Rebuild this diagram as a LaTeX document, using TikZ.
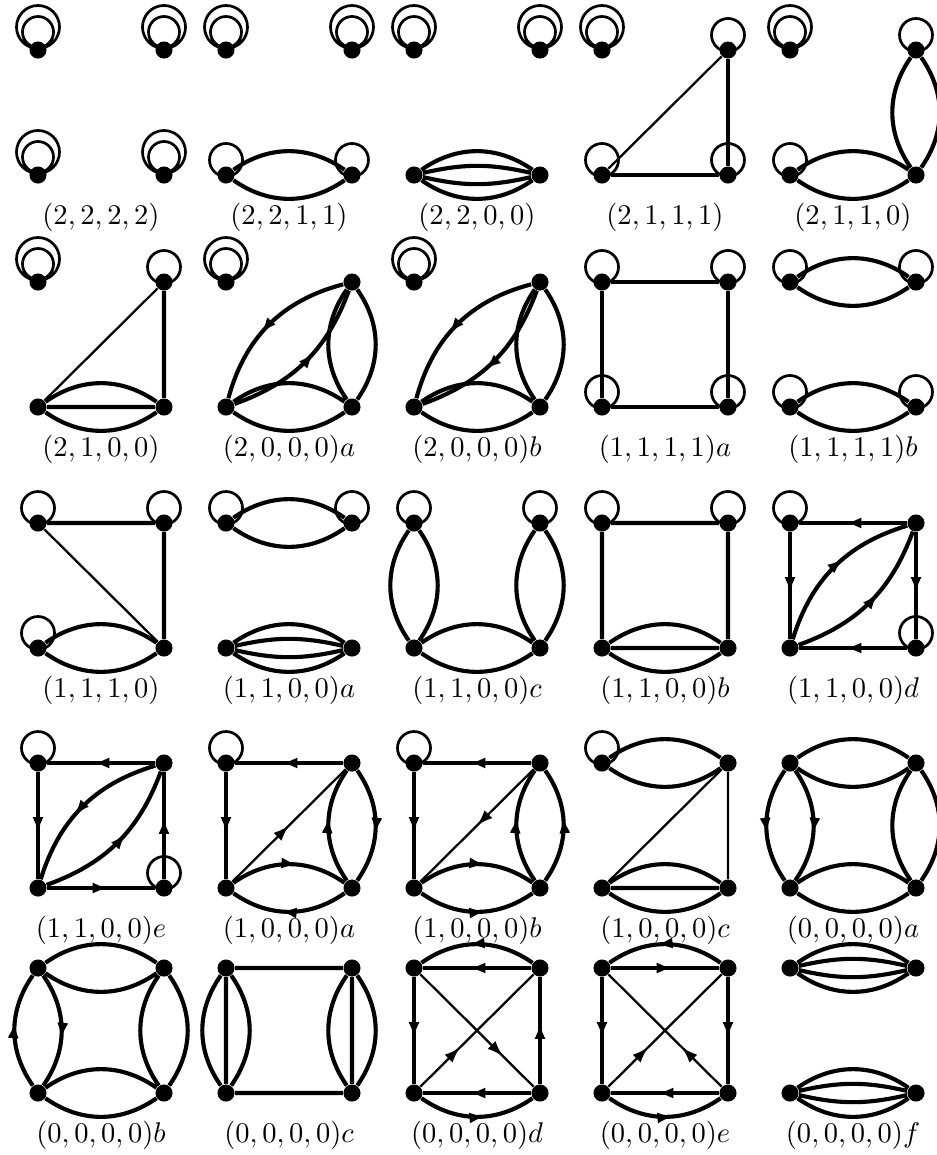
\documentclass[tikz,border=0pt]{standalone}
\usepackage{tikz}
\usetikzlibrary{arrows.meta,decorations.markings}
\tikzset{
  vtx/.style  = {circle, fill=black, inner sep=0pt, minimum size=6pt},
  ed/.style   = {line width=1.45pt},
  diag/.style = {line width=0.8pt},
  lp/.style   = {line width=0.95pt},
  lbl/.style  = {font=\fontsize{10.4}{12}\selectfont},
  fw/.style   = {postaction={decorate, decoration={markings,
                 mark=at position #1 with {\arrow{Latex[length=5.6pt,width=3.9pt]}}}}},
  fw/.default = 0.57,
}

\begin{document}
\begin{tikzpicture}[x=0.351pt, y=0.351pt]
\useasboundingbox (0,0) rectangle (936,-1155);

% four corners and the label of every graph
\foreach \nm/\x/\y/\lab in {
  g2222/38/50/{(2,2,2,2)}, g2211/226/50/{(2,2,1,1)}, g2200/414/50/{(2,2,0,0)},
  g2111/602/50/{(2,1,1,1)}, g2110/790/50/{(2,1,1,0)},
  g2100/38/282/{(2,1,0,0)}, g2000a/226/282/{(2,0,0,0)a}, g2000b/414/282/{(2,0,0,0)b},
  g1111a/602/282/{(1,1,1,1)a}, g1111b/790/282/{(1,1,1,1)b},
  g1110/38/523/{(1,1,1,0)}, g1100a/226/523/{(1,1,0,0)a}, g1100c/414/523/{(1,1,0,0)c},
  g1100b/602/523/{(1,1,0,0)b}, g1100d/790/523/{(1,1,0,0)d},
  g1100e/38/763/{(1,1,0,0)e}, g1000a/226/763/{(1,0,0,0)a}, g1000b/414/763/{(1,0,0,0)b},
  g1000c/602/763/{(1,0,0,0)c}, g0000a/790/763/{(0,0,0,0)a},
  g0000b/38/968/{(0,0,0,0)b}, g0000c/226/968/{(0,0,0,0)c}, g0000d/414/968/{(0,0,0,0)d},
  g0000e/602/968/{(0,0,0,0)e}, g0000f/790/968/{(0,0,0,0)f}}{
  \node[vtx] (\nm tl) at (\x,-\y) {};
  \node[vtx] (\nm tr) at (\x+126,-\y) {};
  \node[vtx] (\nm bl) at (\x,-\y-125) {};
  \node[vtx] (\nm br) at (\x+126,-\y-125) {};
  \node[lbl] (\nm lbl) at (\x+63,-\y-167) {$\lab$};
}

% double and single loops
\foreach \v in {g2222tl,g2222tr,g2222bl,g2222br,g2211tl,g2211tr,g2200tl,g2200tr,
  g2111tl,g2110tl,g2100tl,g2000atl,g2000btl}
  \draw[lp] (\v) ++(0,23) circle[radius=21.5] (\v) ++(0,18) circle[radius=15.5];
\foreach \v in {g2211bl,g2211br,g2111tr,g2111bl,g2111br,g2110tr,g2110bl,g2100tr,
  g1111atl,g1111atr,g1111abl,g1111abr,g1111btl,g1111btr,g1111bbl,g1111bbr,
  g1110tl,g1110tr,g1110bl,g1100atl,g1100atr,g1100ctl,g1100ctr,g1100btl,g1100btr,
  g1100dtl,g1100dbr,g1100etl,g1100ebr,g1000atl,g1000btl,g1000ctl}
  \draw[lp] (\v) ++(0,15) circle[radius=16.5];

% row 1
\draw[ed] (g2211bl) to[bend left=35] (g2211br) (g2211bl) to[bend right=35] (g2211br);
\draw[ed] (g2200bl) to[bend left=35] (g2200br) (g2200bl) to[bend left=13] (g2200br)
  (g2200bl) to[bend right=13] (g2200br) (g2200bl) to[bend right=35] (g2200br);
\draw[ed] (g2111bl) -- (g2111br) (g2111br) -- (g2111tr);
\draw[diag] (g2111bl) -- (g2111tr);
\draw[ed] (g2110tr) to[bend left=35] (g2110br) (g2110tr) to[bend right=35] (g2110br)
  (g2110bl) to[bend left=35] (g2110br) (g2110bl) to[bend right=35] (g2110br);

% row 2
\draw[ed] (g2100tr) -- (g2100br) (g2100bl) -- (g2100br)
  (g2100bl) to[bend left=35] (g2100br) (g2100bl) to[bend right=35] (g2100br);
\draw[diag] (g2100bl) -- (g2100tr);
\draw[ed] (g2000abl) to[bend left=35] (g2000abr) (g2000abl) to[bend right=35] (g2000abr)
  (g2000atr) to[bend left=35] (g2000abr) (g2000atr) to[bend right=35] (g2000abr);
\draw[ed,fw] (g2000atr) to[bend right=30] (g2000abl);
\draw[ed,fw] (g2000abl) to[bend right=25] (g2000atr);
\draw[ed] (g2000bbl) to[bend left=35] (g2000bbr) (g2000bbl) to[bend right=35] (g2000bbr)
  (g2000btr) to[bend left=35] (g2000bbr) (g2000btr) to[bend right=35] (g2000bbr);
\draw[ed,fw] (g2000btr) to[bend right=30] (g2000bbl);
\draw[ed,fw] (g2000btr) to[bend left=25] (g2000bbl);
\draw[ed] (g1111atl) -- (g1111atr) (g1111atr) -- (g1111abr)
  (g1111abr) -- (g1111abl) (g1111abl) -- (g1111atl);
\draw[ed] (g1111btl) to[bend left=35] (g1111btr) (g1111btl) to[bend right=35] (g1111btr)
  (g1111bbl) to[bend left=35] (g1111bbr) (g1111bbl) to[bend right=35] (g1111bbr);

% row 3
\draw[ed] (g1110tl) -- (g1110tr) (g1110tr) -- (g1110br)
  (g1110bl) to[bend left=35] (g1110br) (g1110bl) to[bend right=35] (g1110br);
\draw[diag] (g1110tl) -- (g1110br);
\draw[ed] (g1100atl) to[bend left=35] (g1100atr) (g1100atl) to[bend right=35] (g1100atr)
  (g1100abl) to[bend left=35] (g1100abr) (g1100abl) to[bend left=13] (g1100abr)
  (g1100abl) to[bend right=13] (g1100abr) (g1100abl) to[bend right=35] (g1100abr);
\draw[ed] (g1100ctl) to[bend left=35] (g1100cbl) (g1100ctl) to[bend right=35] (g1100cbl)
  (g1100ctr) to[bend left=35] (g1100cbr) (g1100ctr) to[bend right=35] (g1100cbr)
  (g1100cbl) to[bend left=35] (g1100cbr) (g1100cbl) to[bend right=35] (g1100cbr);
\draw[ed] (g1100btl) -- (g1100btr) (g1100btl) -- (g1100bbl) (g1100btr) -- (g1100bbr)
  (g1100bbl) -- (g1100bbr)
  (g1100bbl) to[bend left=35] (g1100bbr) (g1100bbl) to[bend right=35] (g1100bbr);
\draw[ed,fw] (g1100dtr) -- (g1100dtl);
\draw[ed,fw] (g1100dtl) -- (g1100dbl);
\draw[ed,fw] (g1100dtr) -- (g1100dbr);
\draw[ed,fw] (g1100dbr) -- (g1100dbl);
\draw[ed,fw] (g1100dbl) to[bend left=28] (g1100dtr);
\draw[ed,fw] (g1100dbl) to[bend right=25] (g1100dtr);

% row 4
\draw[ed,fw] (g1100etr) -- (g1100etl);
\draw[ed,fw] (g1100etl) -- (g1100ebl);
\draw[ed,fw] (g1100ebr) -- (g1100etr);
\draw[ed,fw] (g1100ebl) -- (g1100ebr);
\draw[ed,fw] (g1100etr) to[bend right=28] (g1100ebl);
\draw[ed,fw] (g1100ebl) to[bend right=25] (g1100etr);
\draw[ed,fw] (g1000atr) -- (g1000atl);
\draw[ed,fw] (g1000atl) -- (g1000abl);
\draw[diag,fw=0.5] (g1000abl) -- (g1000atr);
\draw[ed,fw] (g1000abr) to[bend left=35] (g1000atr);
\draw[ed,fw] (g1000atr) to[bend left=35] (g1000abr);
\draw[ed,fw] (g1000abl) to[bend left=35] (g1000abr);
\draw[ed,fw] (g1000abr) to[bend left=35] (g1000abl);
\draw[ed,fw] (g1000btr) -- (g1000btl);
\draw[ed,fw] (g1000btl) -- (g1000bbl);
\draw[diag,fw=0.5] (g1000btr) -- (g1000bbl);
\draw[ed,fw] (g1000bbr) to[bend left=35] (g1000btr);
\draw[ed,fw] (g1000bbr) to[bend right=35] (g1000btr);
\draw[ed,fw] (g1000bbl) to[bend left=35] (g1000bbr);
\draw[ed,fw] (g1000bbl) to[bend right=35] (g1000bbr);
\draw[ed] (g1000ctl) to[bend left=35] (g1000ctr) (g1000ctl) to[bend right=35] (g1000ctr)
  (g1000cbl) -- (g1000cbr)
  (g1000cbl) to[bend left=35] (g1000cbr) (g1000cbl) to[bend right=35] (g1000cbr);
\draw[diag] (g1000ctr) -- (g1000cbr) (g1000ctr) -- (g1000cbl);
\draw[ed] (g0000atl) to[bend left=35] (g0000atr) (g0000atl) to[bend right=35] (g0000atr)
  (g0000abl) to[bend left=35] (g0000abr) (g0000abl) to[bend right=35] (g0000abr)
  (g0000atr) to[bend left=35] (g0000abr) (g0000atr) to[bend right=35] (g0000abr);
\draw[ed,fw] (g0000atl) to[bend left=35] (g0000abl);
\draw[ed,fw] (g0000atl) to[bend right=35] (g0000abl);

% row 5
\draw[ed] (g0000btl) to[bend left=35] (g0000btr) (g0000btl) to[bend right=35] (g0000btr)
  (g0000bbl) to[bend left=35] (g0000bbr) (g0000bbl) to[bend right=35] (g0000bbr)
  (g0000btr) to[bend left=35] (g0000bbr) (g0000btr) to[bend right=35] (g0000bbr);
\draw[ed,fw] (g0000bbl) to[bend left=35] (g0000btl);
\draw[ed,fw] (g0000btl) to[bend left=35] (g0000bbl);
\draw[ed] (g0000ctl) -- (g0000ctr) (g0000cbl) -- (g0000cbr)
  (g0000ctl) -- (g0000cbl) (g0000ctl) to[bend left=35] (g0000cbl)
  (g0000ctl) to[bend right=35] (g0000cbl)
  (g0000ctr) -- (g0000cbr) (g0000ctr) to[bend left=35] (g0000cbr)
  (g0000ctr) to[bend right=35] (g0000cbr);
\draw[ed,fw] (g0000dtr) -- (g0000dtl);
\draw[ed,fw] (g0000dtr) to[bend right=35] (g0000dtl);
\draw[ed,fw] (g0000dtl) -- (g0000dbl);
\draw[ed,fw] (g0000dbr) -- (g0000dtr);
\draw[diag,fw=0.73] (g0000dtl) -- (g0000dbr);
\draw[diag,fw=0.35] (g0000dbl) -- (g0000dtr);
\draw[ed,fw] (g0000dbr) -- (g0000dbl);
\draw[ed,fw] (g0000dbl) to[bend right=35] (g0000dbr);
\draw[ed,fw] (g0000etr) to[bend right=35] (g0000etl);
\draw[ed,fw] (g0000etl) -- (g0000etr);
\draw[ed,fw] (g0000etl) -- (g0000ebl);
\draw[ed,fw] (g0000etr) -- (g0000ebr);
\draw[diag,fw=0.35] (g0000ebl) -- (g0000etr);
\draw[diag,fw=0.35] (g0000ebr) -- (g0000etl);
\draw[ed,fw] (g0000ebr) -- (g0000ebl);
\draw[ed,fw] (g0000ebl) to[bend right=35] (g0000ebr);
\draw[ed] (g0000ftl) to[bend left=35] (g0000ftr) (g0000ftl) to[bend left=13] (g0000ftr)
  (g0000ftl) to[bend right=13] (g0000ftr) (g0000ftl) to[bend right=35] (g0000ftr)
  (g0000fbl) to[bend left=35] (g0000fbr) (g0000fbl) to[bend left=13] (g0000fbr)
  (g0000fbl) to[bend right=13] (g0000fbr) (g0000fbl) to[bend right=35] (g0000fbr);

\end{tikzpicture}
\end{document}
